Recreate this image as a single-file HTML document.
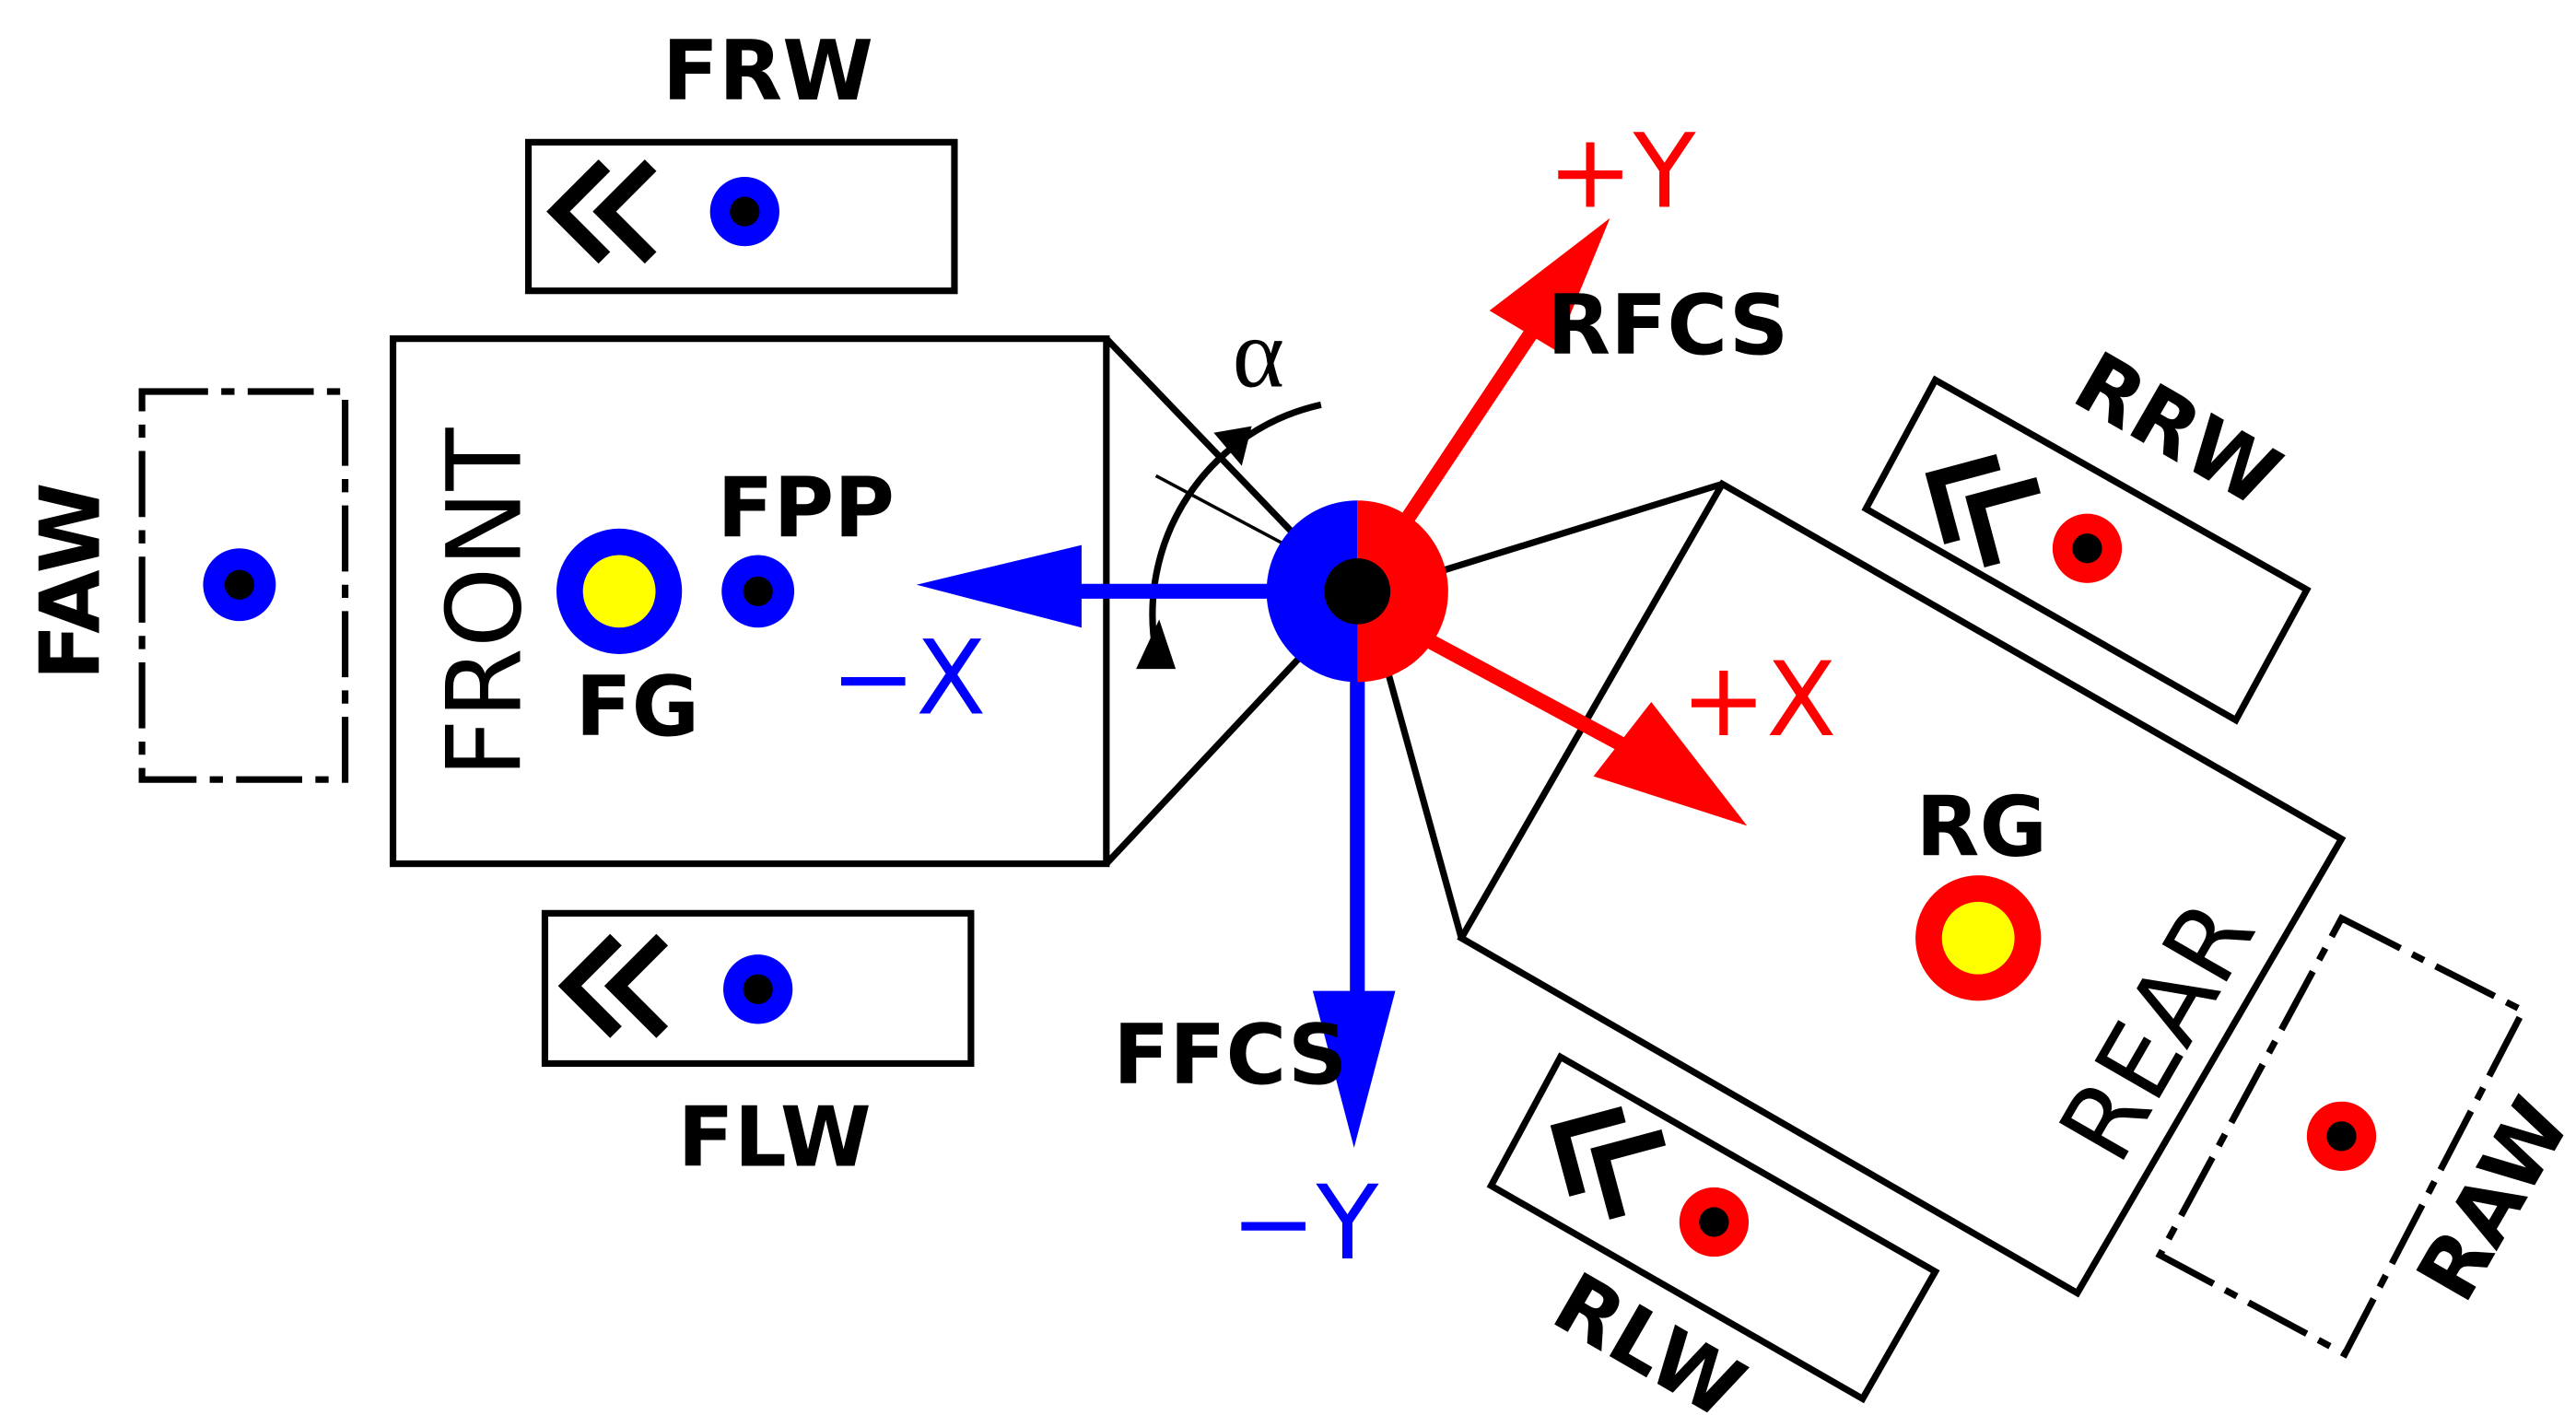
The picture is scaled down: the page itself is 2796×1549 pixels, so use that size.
<!DOCTYPE html>
<html><head><meta charset="utf-8"><style>html,body{margin:0;padding:0;background:#fff}svg{display:block}</style></head>
<body>
<svg width="2796" height="1549" viewBox="0 0 1560 864" xmlns="http://www.w3.org/2000/svg" font-family="'DejaVu Sans','Liberation Sans',sans-serif">
<defs>
<g id="chev"><path d="M28,-28 L0,0 L28,28 M56,-28 L28,0 L56,28" fill="none" stroke="#000" stroke-width="10"/></g>
</defs>
<g stroke="#000" stroke-width="4" fill="none">
<rect x="320" y="86" width="258" height="90"/>
<rect x="238" y="205" width="432" height="318"/>
<rect x="330" y="553" width="258" height="91"/>
<rect x="86" y="237" width="123" height="235" stroke-dasharray="40,8,8,8"/>
<line x1="670" y1="205" x2="790" y2="330"/>
<line x1="670" y1="523" x2="790" y2="395"/>
<polygon points="1043,293 1418,508 1258,783 885,568"/>
<line x1="875" y1="345" x2="1043" y2="293"/>
<line x1="840" y1="405" x2="885" y2="568"/>
<polygon points="1172,230 1397,357 1354,436 1130,308"/>
<polygon points="945,640 1172,770 1128,847 903,718"/>
<polygon points="1418,556 1528,612 1420,820 1308,760" stroke-dasharray="40,8,8,8"/>
<path d="M800,245 A130,130 0 0 0 700,395" stroke-width="4"/>
<line x1="700" y1="288" x2="820" y2="352" stroke-width="2"/>
</g>
<polygon points="735,262 752,282 758,258" fill="#000"/>
<polygon points="688,405 712,405 702,375" fill="#000"/>
<use href="#chev" x="338" y="128"/>
<use href="#chev" x="345" y="597"/>
<g transform="translate(1172,290) rotate(30)"><use href="#chev" x="0" y="0"/></g>
<g transform="translate(945,685) rotate(30)"><use href="#chev" x="0" y="0"/></g>
<g fill="#00f"><circle cx="451" cy="128" r="21"/><circle cx="459" cy="358" r="22"/><circle cx="459" cy="599" r="21"/><circle cx="145" cy="354" r="22"/><circle cx="375" cy="358" r="38"/></g>
<circle cx="375" cy="358" r="22" fill="#ff0"/>
<g fill="#f00"><circle cx="1264" cy="332" r="21"/><circle cx="1038" cy="740" r="21"/><circle cx="1418" cy="688" r="21"/><circle cx="1198" cy="568" r="38"/></g>
<circle cx="1198" cy="568" r="22" fill="#ff0"/>
<g fill="#000"><circle cx="451" cy="128" r="9"/><circle cx="459" cy="358" r="9"/><circle cx="459" cy="599" r="9"/><circle cx="145" cy="354" r="9"/><circle cx="1264" cy="332" r="9"/><circle cx="1038" cy="740" r="9"/><circle cx="1418" cy="688" r="9"/></g>
<line x1="822" y1="358" x2="650" y2="358" stroke="#00f" stroke-width="9"/>
<polygon points="555,354 655,330 655,380" fill="#00f"/>
<line x1="822" y1="358" x2="822" y2="605" stroke="#00f" stroke-width="9"/>
<polygon points="795,600 845,600 820,695" fill="#00f"/>
<line x1="845" y1="325" x2="935" y2="190" stroke="#f00" stroke-width="9"/>
<polygon points="975,132 902,188 942,212" fill="#f00"/>
<line x1="860" y1="385" x2="990" y2="455" stroke="#f00" stroke-width="9"/>
<polygon points="1058,500 1000,425 965,470" fill="#f00"/>
<path d="M822,303 A55,55 0 0 0 822,413 Z" fill="#00f"/>
<path d="M822,303 A55,55 0 0 1 822,413 Z" fill="#f00"/>
<circle cx="822" cy="358" r="20" fill="#000"/>
<g font-weight="bold" font-size="50" fill="#000" text-anchor="middle">
<text x="465" y="60">FRW</text>
<text x="488" y="325">FPP</text>
<text x="386" y="445">FG</text>
<text x="469" y="706">FLW</text>
<text x="1010" y="214">RFCS</text>
<text x="745" y="656">FFCS</text>
<text x="1200" y="518">RG</text>
<text transform="translate(60,352) rotate(-90)">FAW</text>
<text transform="translate(1310,275) rotate(30)">RRW</text>
<text transform="translate(990,830) rotate(30)">RLW</text>
<text transform="translate(1525,735) rotate(-60)">RAW</text>
</g>
<text transform="translate(315,365) rotate(-90)" font-size="62" text-anchor="middle" fill="#000">FRONT</text>
<text transform="translate(1325,635) rotate(-60)" font-size="62" text-anchor="middle" fill="#000">REAR</text>
<g font-size="62" text-anchor="middle">
<text x="550" y="432" fill="#00f">−X</text>
<text x="790" y="762" fill="#00f">−Y</text>
<text x="982" y="125" fill="#f00">+Y</text>
<text x="1065" y="445" fill="#f00">+X</text>
</g>
<text x="762" y="234" font-size="60" font-family="'Liberation Serif',serif" text-anchor="middle">α</text>
</svg>
</body></html>
